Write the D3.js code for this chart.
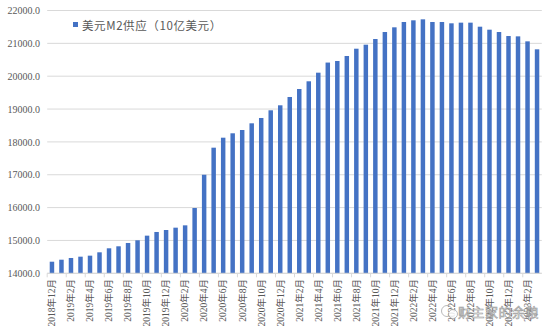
<!DOCTYPE html>
<html>
<head>
<meta charset="utf-8">
<script src="https://cdn.jsdelivr.net/npm/d3@7/dist/d3.min.js"></script>
<style>
  html, body { margin: 0; padding: 0; background: #fff; }
  svg { display: block; }
</style>
</head>
<body>
<svg id="chart" width="550" height="334"></svg>
<script>
// Monthly US M2 money supply, billions of USD
const months = [
  "2018年12月",
  "2019年1月", "2019年2月", "2019年3月", "2019年4月", "2019年5月", "2019年6月",
  "2019年7月", "2019年8月", "2019年9月", "2019年10月", "2019年11月", "2019年12月",
  "2020年1月", "2020年2月", "2020年3月", "2020年4月", "2020年5月", "2020年6月",
  "2020年7月", "2020年8月", "2020年9月", "2020年10月", "2020年11月", "2020年12月",
  "2021年1月", "2021年2月", "2021年3月", "2021年4月", "2021年5月", "2021年6月",
  "2021年7月", "2021年8月", "2021年9月", "2021年10月", "2021年11月", "2021年12月",
  "2022年1月", "2022年2月", "2022年3月", "2022年4月", "2022年5月", "2022年6月",
  "2022年7月", "2022年8月", "2022年9月", "2022年10月", "2022年11月", "2022年12月",
  "2023年1月", "2023年2月", "2023年3月"
];
const m2Supply = [
  14353,
  14414, 14466, 14506, 14537, 14639, 14761,
  14822, 14923, 15005, 15146, 15258, 15318,
  15389, 15460, 15988, 17000, 17824, 18128,
  18262, 18362, 18566, 18728, 18962, 19114,
  19367, 19610, 19845, 20107, 20415, 20463,
  20615, 20837, 20959, 21132, 21345, 21488,
  21650, 21701, 21731, 21650, 21650, 21610,
  21630, 21630, 21507, 21416, 21345, 21223,
  21213, 21061, 20818
];
const yTicks = [14000, 15000, 16000, 17000, 18000, 19000, 20000, 21000, 22000];
const seriesName = "美元M2供应（10亿美元）";
const watermark = "财主家的余粮";

const svg = d3.select("#chart");
const plotLeft = 47.2, plotRight = 541.8, plotTop = 10.5, plotBottom = 273.3;
const labelFont = "'Liberation Serif', 'Noto Sans CJK SC', serif";
const gray = "#595959";

const x = d3.scaleBand().domain(months).range([plotLeft, plotRight])
  .paddingInner(0.53).paddingOuter(0.265);
const y = d3.scaleLinear().domain([14000, 22000]).range([plotBottom, plotTop]);

// horizontal gridlines
svg.append("g").selectAll("line").data(yTicks).join("line")
  .attr("x1", plotLeft).attr("x2", plotRight)
  .attr("y1", d => y(d)).attr("y2", d => y(d))
  .attr("stroke", "#D9D9D9").attr("stroke-width", 1);

// y axis labels
const yAxis = d3.axisLeft(y).tickValues(yTicks).tickSize(0).tickPadding(0)
  .tickFormat(d3.format(".1f"));
svg.append("g").attr("transform", "translate(40,0)").call(yAxis)
  .call(g => g.select(".domain").remove())
  .call(g => g.selectAll("text")
    .attr("fill", gray).attr("font-size", "10px").attr("font-family", labelFont));

// bars
svg.append("g").selectAll("rect").data(months).join("rect")
  .attr("x", d => x(d))
  .attr("width", x.bandwidth())
  .attr("y", (d, i) => y(m2Supply[i]))
  .attr("height", (d, i) => y(14000) - y(m2Supply[i]))
  .attr("fill", "#4472C4");

// category axis: tick marks on every other band boundary, labels on every other month
const step = x.step();
const shown = months.filter((d, i) => i % 2 === 0);
const xg = svg.append("g");
xg.append("line").attr("x1", plotLeft).attr("x2", plotRight)
  .attr("y1", plotBottom).attr("y2", plotBottom)
  .attr("stroke", "#D9D9D9").attr("stroke-width", 1);
xg.selectAll("line.tick").data(shown).join("line").attr("class", "tick")
  .attr("x1", d => x(d) - x.paddingInner() * step / 2)
  .attr("x2", d => x(d) - x.paddingInner() * step / 2)
  .attr("y1", plotBottom).attr("y2", plotBottom + 4)
  .attr("stroke", "#D9D9D9");
xg.selectAll("text").data(shown).join("text")
  .attr("transform", d => `translate(${x(d) + x.bandwidth() / 2},279) rotate(-90)`)
  .attr("text-anchor", "end").attr("dy", "0.35em")
  .attr("fill", gray).attr("font-size", "9.5px").attr("font-family", labelFont)
  .text(d => d);

// legend
svg.append("rect").attr("x", 73).attr("y", 22).attr("width", 5).attr("height", 5)
  .attr("fill", "#4472C4");
svg.append("text").attr("x", 82).attr("y", 29.5)
  .attr("fill", gray).attr("font-size", "11.5px").attr("letter-spacing", "0.6px")
  .attr("font-family", "'Noto Sans CJK SC', sans-serif")
  .text(seriesName);

// account watermark
const wm = svg.append("g").attr("opacity", 0.85);
wm.append("circle").attr("cx", 447).attr("cy", 311).attr("r", 5.5)
  .attr("fill", "none").attr("stroke", "#9a9a9a").attr("stroke-width", 0.8);
wm.append("circle").attr("cx", 453).attr("cy", 314).attr("r", 4.5)
  .attr("fill", "#fff").attr("stroke", "#9a9a9a").attr("stroke-width", 0.8);
wm.append("text").attr("x", 458).attr("y", 317)
  .attr("font-size", "13px").attr("font-family", "'Noto Sans CJK SC', sans-serif")
  .attr("fill", "#ffffff").attr("stroke", "#8a8a8a").attr("stroke-width", 0.6)
  .attr("letter-spacing", "0.5px")
  .text(watermark);
</script>
</body>
</html>
